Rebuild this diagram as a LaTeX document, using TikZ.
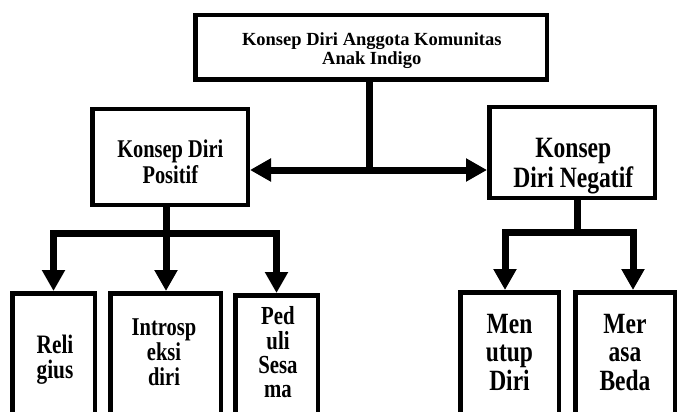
\documentclass[tikz,border=0pt]{standalone}
\usepackage{fontspec}
\usepackage{graphicx}
\setmainfont{Liberation Serif}
\usetikzlibrary{arrows.meta,calc}
\newcommand\stk[1]{\scalebox{1}[1.25]{\begin{tabular}{@{}c@{}}#1\end{tabular}}}
\newcommand\plainstk[1]{\begin{tabular}{@{}c@{}}#1\end{tabular}}
\begin{document}
\begin{tikzpicture}[x=1pt,y=-1pt,
  box/.style={draw=black,line width=4.5pt,fill=white,inner sep=0pt},
  conn/.style={draw=black,line width=7pt},
  tip/.style={conn,-{Triangle[length=21pt,width=22pt]}},
  lbl/.style={inner sep=0pt,outer sep=0pt}
]
\useasboundingbox (0,0) rectangle (681,412);
\clip (0,0) rectangle (681,412);
% boxes
\node[box,minimum width=351.5pt,minimum height=64.5pt] (top) at (371,47.5) {};
\node[box,minimum width=155.5pt,minimum height=95.5pt] (pos) at (170,157) {};
\node[box,minimum width=165.5pt,minimum height=90.5pt] (neg) at (572,152.5) {};
\node[box,minimum width=82.5pt,minimum height=140pt] (b1) at (53.5,363.25) {};
\node[box,minimum width=110.5pt,minimum height=140pt] (b2) at (165.5,363.25) {};
\node[box,minimum width=82.5pt,minimum height=140pt] (b3) at (276.5,365.25) {};
\node[box,minimum width=98.5pt,minimum height=140pt] (b4) at (509.5,362.25) {};
\node[box,minimum width=99.5pt,minimum height=140pt] (b5) at (625,362.25) {};
% texts
\node[lbl,font=\bfseries\fontsize{18.5}{18.6}\selectfont] (ttop) at (371.8,51.3) {\plainstk{Konsep Diri Anggota Komunitas\\Anak Indigo}};
\node[lbl,font=\bfseries\fontsize{20.4}{20.8}\selectfont] (tpos) at (170.3,164.8) {\stk{Konsep Diri\\Positif}};
\node[lbl,font=\bfseries\fontsize{23.6}{23.2}\selectfont] (tneg) at (573.3,166.7) {\stk{Konsep\\Diri Negatif}};
\node[lbl,font=\bfseries\fontsize{21.3}{20}\selectfont] (t1) at (55,360.5) {\stk{Reli\\gius}};
\node[lbl,font=\bfseries\fontsize{20.5}{19.4}\selectfont] (t2) at (164,356) {\stk{Introsp\\eksi\\diri}};
\node[lbl,font=\bfseries\fontsize{20.8}{18.6}\selectfont] (t3) at (278,355.3) {\stk{Ped\\uli\\Sesa\\ma}};
\node[lbl,font=\bfseries\fontsize{23.5}{22.4}\selectfont] (t4) at (509.5,356.6) {\stk{Men\\utup\\Diri}};
\node[lbl,font=\bfseries\fontsize{23.5}{22.4}\selectfont] (t5) at (625,356.6) {\stk{Mer\\asa\\Beda}};
% connectors top
\coordinate (j) at (369,170);
\draw[conn] (top.south -| j) -- (j);
\draw[tip] (j) -- (pos.east |- j);
\draw[tip] (j) -- (neg.west |- j);
% left group
\coordinate (jl) at (166,233);
\draw[conn] (pos.south -| jl) -- (jl);
\draw[tip] (jl) -| (b1.north);
\draw[tip] (jl) -- (b2.north -| jl);
\draw[tip] (jl) -| (b3.north);
% right group
\coordinate (jr) at (577,232);
\coordinate (ar1) at (505,232);
\coordinate (ar2) at (633,232);
\draw[conn] (neg.south -| jr) -- (jr);
\draw[tip] (jr) -- (ar1) -- (b4.north -| ar1);
\draw[tip] (jr) -- (ar2) -- (b5.north -| ar2);
\end{tikzpicture}
\end{document}
